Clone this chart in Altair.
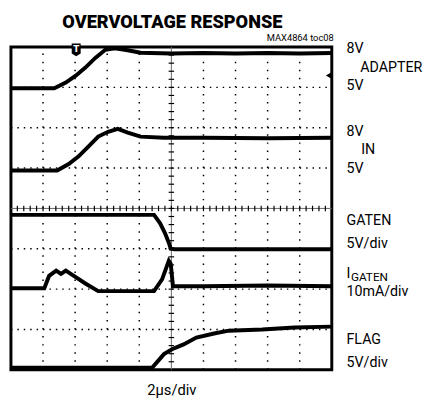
import altair as alt
import pandas as pd
import numpy as np

# ---- trace data (time in divisions 0..10, level in divisions 0..8 from bottom) ----
adapter_t = [0, 1.35, 1.71, 2.02, 2.32, 2.63, 2.94, 3.24, 3.64, 4.04, 5, 6, 7, 8, 9, 10]
adapter_v = [6.98, 6.98, 7.12, 7.29, 7.49, 7.73, 7.93, 7.97, 7.92, 7.86, 7.84, 7.85, 7.84, 7.85, 7.84, 7.85]

in_t = [0, 1.44, 1.80, 2.11, 2.42, 2.72, 3.03, 3.33, 3.64, 4.04, 4.77, 6, 8, 10]
in_v = [4.94, 4.94, 5.10, 5.29, 5.54, 5.78, 5.90, 5.97, 5.88, 5.78, 5.75, 5.75, 5.74, 5.75]

gaten_t = [0, 4.46, 4.65, 4.80, 4.92, 4.98, 5.10, 7, 10]
gaten_v = [3.84, 3.84, 3.63, 3.39, 3.15, 3.00, 2.99, 2.99, 2.99]

igaten_t = [0, 1.04, 1.19, 1.41, 1.56, 1.71, 1.96, 2.32, 2.72, 3.20, 4.46, 4.71, 4.92, 4.98, 5.05, 6, 8, 10]
igaten_v = [2.02, 2.02, 2.33, 2.46, 2.38, 2.46, 2.33, 2.14, 1.95, 1.95, 1.95, 2.24, 2.70, 2.63, 2.07, 2.07, 2.09, 2.07]

flag_t = [0, 4.40, 4.77, 5.02, 5.38, 5.78, 6.33, 6.79, 7.83, 8.84, 10]
flag_v = [0.05, 0.05, 0.39, 0.51, 0.63, 0.80, 0.90, 0.97, 1.00, 1.05, 1.07]

series_names = ["ADAPTER", "IN", "GATEN", "IGATEN", "FLAG"]
series_t = [adapter_t, in_t, gaten_t, igaten_t, flag_t]
series_v = [adapter_v, in_v, gaten_v, igaten_v, flag_v]

# ---- labels ----
title_text = "OVERVOLTAGE RESPONSE"
code_text = "MAX4864 toc08"
right_labels = ["8V", "ADAPTER", "5V", "8V", "IN", "5V", "GATEN", "5V/div", "I", "10mA/div", "FLAG", "5V/div"]
xaxis_label = "2\u00b5s/div"

# ---- layout (pixels) ----
W, H = 327, 329
OX, OY = 11, 44
DX, DY = W / 10, H / 8


def to_data(px, py):
    return (px - OX) / DX, 8 - (py - OY) / DY


FONT = "Roboto, Liberation Sans, sans-serif"

rows = []
for name, ts, vs in zip(series_names, series_t, series_v):
    for t, v in zip(ts, vs):
        rows.append({"series": name, "t": t, "v": v})
traces_df = pd.DataFrame(rows)

xs = alt.Scale(domain=[0, 10], nice=False, zero=False)
ys = alt.Scale(domain=[0, 8], nice=False, zero=False)
X = lambda f: alt.X(f, scale=xs, axis=None)
Y = lambda f: alt.Y(f, scale=ys, axis=None)

# dotted grid (vertical lines drawn bottom->top, horizontal left->right)
vgrid = pd.DataFrame({"t": [1, 2, 3, 4, 6, 7, 8, 9]})
vgrid["a"] = 0.0
vgrid["b"] = 8.0
hgrid = pd.DataFrame({"v": [1, 2, 3, 5, 6, 7]})
hgrid["a"] = 0.0
hgrid["b"] = 10.0
vgrid_layer = alt.Chart(vgrid).mark_rule(color="black", strokeWidth=1.5, strokeDash=[1.5, round(DY / 5 - 1.5, 3)]).encode(
    x=X("t:Q"), y=Y("a:Q"), y2="b:Q")
hgrid_layer = alt.Chart(hgrid).mark_rule(color="black", strokeWidth=1.5, strokeDash=[1.5, round(DX / 5 - 1.5, 3)]).encode(
    y=Y("v:Q"), x=X("a:Q"), x2="b:Q")

# centre crosshair
cx = pd.DataFrame({"t": [5.0], "a": [0.0], "b": [8.0]})
cy = pd.DataFrame({"v": [4.0], "a": [0.0], "b": [10.0]})
cx_layer = alt.Chart(cx).mark_rule(color="#666", strokeWidth=1).encode(x=X("t:Q"), y=Y("a:Q"), y2="b:Q")
cy_layer = alt.Chart(cy).mark_rule(color="#666", strokeWidth=1).encode(y=Y("v:Q"), x=X("a:Q"), x2="b:Q")

hticks = pd.DataFrame({"t": np.round(np.arange(0.2, 10, 0.2), 2)})
hticks["y1"] = 4 - 2.8 / DY
hticks["y2"] = 4 + 2.8 / DY
vticks = pd.DataFrame({"v": np.round(np.arange(0.2, 8, 0.2), 2)})
vticks["x1"] = 5 - 2.8 / DX
vticks["x2"] = 5 + 2.8 / DX
htick_layer = alt.Chart(hticks).mark_rule(color="black", strokeWidth=1.2).encode(
    x=X("t:Q"), y=Y("y1:Q"), y2="y2:Q")
vtick_layer = alt.Chart(vticks).mark_rule(color="black", strokeWidth=1.2).encode(
    y=Y("v:Q"), x=X("x1:Q"), x2="x2:Q")

# traces
trace_layer = alt.Chart(traces_df).mark_line(color="black", strokeWidth=4, clip=True).encode(
    x=X("t:Q"), y=Y("v:Q"), detail="series:N", order="t:Q")

# markers
tx, ty = to_data(77.5, 47)
trig = pd.DataFrame({"t": [tx], "v": [ty], "text": ["T"]})
trig_shape = alt.Chart(trig).mark_point(
    shape="M-0.7,-1 L0.7,-1 L0.7,0.55 L0,1 L-0.7,0.55 Z", filled=True, color="black", size=170, opacity=1
).encode(x=X("t:Q"), y=Y("v:Q"))
trig_text = alt.Chart(trig).mark_text(color="white", fontSize=9, fontWeight="bold",
                                      font="DejaVu Sans", baseline="middle", dy=-0.5).encode(
    x=X("t:Q"), y=Y("v:Q"), text="text:N")
gx, gy = to_data(335, 73)
gnd = pd.DataFrame({"t": [gx], "v": [gy]})
gnd_layer = alt.Chart(gnd).mark_point(shape="triangle-left", filled=True, color="black", size=50, opacity=1).encode(
    x=X("t:Q"), y=Y("v:Q"))

# text annotations
label_px = [(353, 50), (367, 69), (353, 88), (353, 135), (368, 153), (353, 172),
            (353, 225), (353, 249), (353, 279), (353, 298), (353, 347), (353, 370)]
lab_rows = []
for txt, (px, py) in zip(right_labels, label_px):
    t, v = to_data(px, py)
    lab_rows.append({"text": txt, "t": t, "v": v})
lab_df = pd.DataFrame(lab_rows)
lab_layer = alt.Chart(lab_df).mark_text(align="left", baseline="alphabetic", fontSize=14.5, font=FONT,
                                        color="black").encode(x=X("t:Q"), y=Y("v:Q"), text="text:N")

st, sv = to_data(357.5, 282)
sub_df = pd.DataFrame({"text": ["GATEN"], "t": [st], "v": [sv]})
sub_layer = alt.Chart(sub_df).mark_text(align="left", baseline="alphabetic", fontSize=12, font=FONT,
                                        color="black").encode(x=X("t:Q"), y=Y("v:Q"), text="text:N")

tt, tv = to_data(175.5, 25)
title_df = pd.DataFrame({"text": [title_text], "t": [tt], "v": [tv]})
title_layer = alt.Chart(title_df).mark_text(align="center", baseline="alphabetic", fontSize=18.5,
                                            fontWeight=900, font=FONT, color="black").encode(
    x=X("t:Q"), y=Y("v:Q"), text="text:N")

ct, cv = to_data(340, 38)
code_df = pd.DataFrame({"text": [code_text], "t": [ct], "v": [cv]})
code_layer = alt.Chart(code_df).mark_text(align="right", baseline="alphabetic", fontSize=9.5,
                                          font=FONT, color="black").encode(
    x=X("t:Q"), y=Y("v:Q"), text="text:N")

xt, xv = to_data(175, 399)
xl_df = pd.DataFrame({"text": [xaxis_label], "t": [xt], "v": [xv]})
xl_layer = alt.Chart(xl_df).mark_text(align="center", baseline="alphabetic", fontSize=15,
                                      font=FONT, color="black").encode(
    x=X("t:Q"), y=Y("v:Q"), text="text:N")

chart = alt.layer(
    vgrid_layer, hgrid_layer, cx_layer, cy_layer, htick_layer, vtick_layer,
    trace_layer, trig_shape, trig_text, gnd_layer,
    lab_layer, sub_layer, title_layer, code_layer, xl_layer,
).properties(
    width=W, height=H,
    autosize=alt.AutoSizeParams(type="none"),
    padding={"left": OX - 8, "top": OY - 8, "right": 95, "bottom": 28},
    background="white",
).configure_view(stroke="black", strokeWidth=3)

chart.save("out.html", embed_options={"renderer": "svg", "actions": False})
